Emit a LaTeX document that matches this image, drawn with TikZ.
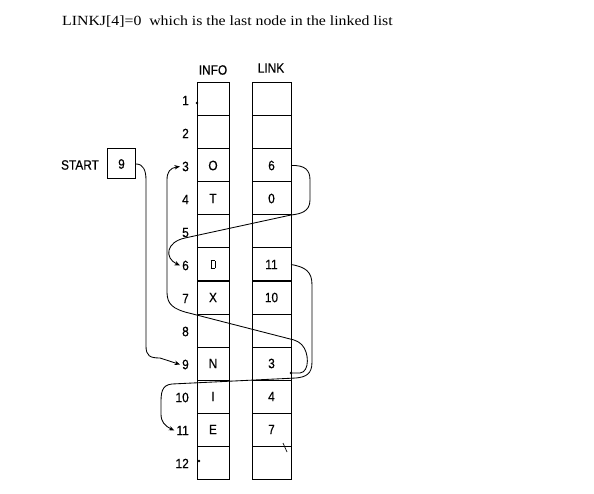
\documentclass[tikz,border=0pt]{standalone}
\usepackage{fontspec}
\setmainfont{Liberation Serif}
\setsansfont{Liberation Sans}
\newfontfamily\titlefont{Liberation Serif}[FakeStretch=1.13]
\newfontfamily\labfont{Liberation Sans}[FakeStretch=0.88,FakeBold=0.5]
\usetikzlibrary{arrows.meta}
\newcommand{\blankbox}{{\setlength{\fboxsep}{0pt}\setlength{\fboxrule}{0.4pt}\fbox{\rule{0pt}{7.5pt}\hspace{4pt}}}}
\begin{document}
\begin{tikzpicture}[x=1pt,y=-1pt,
  cell/.style={draw, line width=1pt, inner sep=0pt, outer sep=0pt, font=\labfont\fontsize{13.5}{13.5}\selectfont},
  infocell/.style={cell, minimum width=32pt, minimum height=33pt},
  linkcell/.style={cell, minimum width=39pt, minimum height=33pt},
  num/.style={font=\labfont\fontsize{13.5}{13.5}\selectfont, anchor=east, inner sep=0pt},
  head/.style={font=\labfont\fontsize{13.5}{13.5}\selectfont, inner sep=0pt},
  conn/.style={line width=0.85pt, -{Stealth[length=5.5pt,width=4.5pt]}},
]
\useasboundingbox (0,0) rectangle (594,494);
\node[anchor=base west, font=\titlefont\fontsize{14}{14}\selectfont, inner sep=0pt] (title) at (62,26) {LINKJ[4]=0\ \ which is the last node in the linked list};

\foreach \i/\a/\b in {1//,2//,3/O/6,4/T/0,5//,6/\blankbox/11,7/X/10,8//,9/N/3,10/I/4,11/E/7,12//} {
  \node[infocell] (info\i) at (213, {66.5+33*\i}) {\a};
  \node[linkcell] (link\i) at (271.5, {66.5+33*\i}) {\b};
  \node[num] (n\i) at (189, {67.5+33*\i}) {\i};
}

\node[head] (infohead) at (213,70) {INFO};
\node[head] (linkhead) at (271,68) {LINK};

\node[num, anchor=center] (startlbl) at (80,165) {START};
\node[draw, line width=1pt, minimum width=28pt, minimum height=30pt, inner sep=0pt, font=\labfont\fontsize{13.5}{13.5}\selectfont] (start) at (121.5,164) {9};

% START -> 9
\draw[conn] (start.east) .. controls (143,164) and (146,170) .. (146,180) -- (146,346) .. controls (146,356) and (150,358) .. (160,358) -- ([xshift=-2pt]n9.west);

% LINK[9]=3
\fill ([yshift=-9.5pt]link9.east) circle (1.4);
\draw[conn] ([yshift=-9.5pt]link9.east) -- (300,373) .. controls (310,372) and (309,352) .. (302,345) .. controls (299,342) and (297,341) .. (294,340) -- (185,312) .. controls (168,307) and (167,300) .. (167,290) -- (167,180) .. controls (167,172) and (170,168) .. ([xshift=-2pt]n3.west);

% LINK[3]=6
\draw[conn] (link3.east) .. controls (305,165) and (310,170) .. (310,180) -- (310,200) .. controls (310,212) and (300,214) .. (291,215) -- (185,238) .. controls (166,242) and (164,258) .. ([xshift=-2pt]n6.west);

% LINK[6]=11
\draw[conn] (link6.east) .. controls (306,267) and (312,272) .. (312,285) -- (312,362) .. controls (312,374) and (306,377) .. (296,378) -- (172,384) .. controls (161,385) and (161,394) .. (161,404) -- (161,414) .. controls (161,422) and (165,426) .. ([xshift=-2pt]n11.west);

% small marks
\fill (197,103) circle (1.3);
\fill (199,461) circle (1.3);
\draw[line width=0.7pt] (283,443) -- (287,452);
\end{tikzpicture}
\end{document}
